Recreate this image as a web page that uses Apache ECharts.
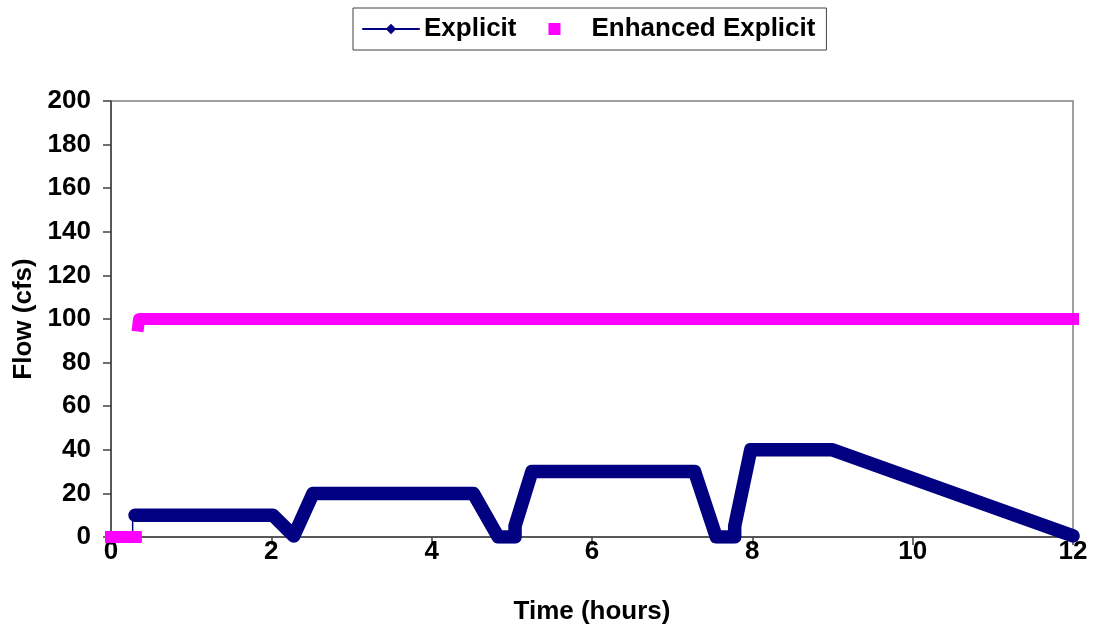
<!DOCTYPE html>
<html>
<head>
<meta charset="utf-8">
<script src="https://cdn.jsdelivr.net/npm/echarts@6/dist/echarts.min.js"></script>
<style>
html,body{margin:0;padding:0;background:#fff;}
#chart{width:1093px;height:636px;}
</style>
</head>
<body>
<div id="chart"></div>
<script>
// Explicit: short lead-in (thin connector) then the dense marker band (key vertices)
const explicitLeadX = [0, 0.27, 0.27, 0.30];
const explicitLeadY = [0, 0, 10, 10];
const explicitX = [0.30, 2.02, 2.28, 2.52, 4.52, 4.83, 5.04, 5.04, 5.25, 7.28, 7.55, 7.78, 7.78, 7.98, 9.00, 12.00];
const explicitY = [10, 10, 0.5, 20, 20, 0, 0, 5, 30, 30, 0, 0, 5, 40, 40, 0.5];
// Enhanced Explicit
const enhancedStartX = [0, 0.31];
const enhancedStartY = [0, 0];
const enhancedX = [0.34, 0.35, 12];
const enhancedY = [97, 100, 100];
const xTicks = [0, 2, 4, 6, 8, 10, 12];
const yTicks = [0, 20, 40, 60, 80, 100, 120, 140, 160, 180, 200];

const zip = (xs, ys) => xs.map((x, i) => [x, ys[i]]);
const FONT = '"Liberation Sans", Arial, sans-serif';
const NAVY = '#000080';
const PINK = '#FF00FF';

const chart = echarts.init(document.getElementById('chart'), null, {renderer: 'canvas'});
chart.setOption({
  animation: false,
  backgroundColor: '#fff',
  textStyle: {fontFamily: FONT},
  grid: {left: 111, right: 20, top: 101, bottom: 99, show: true, borderColor: '#808080', borderWidth: 1.5},
  legend: {
    left: 353, top: 8,
    padding: [8, 11, 8, 9],
    borderColor: '#404040', borderWidth: 1,
    itemWidth: 56, itemHeight: 13, itemGap: 14,
    symbolKeepAspect: false,
    textStyle: {fontFamily: FONT, fontWeight: 'bold', fontSize: 26, color: '#000'},
    data: [
      {name: 'Explicit', lineStyle: {width: 2, color: NAVY}, itemStyle: {color: NAVY}},
      {name: 'Enhanced Explicit',
       icon: 'path://M0,0h0.01v0.01h-0.01Z M55.99,12.99h0.01v0.01h-0.01Z M18,0.5H30V12.5H18Z',
       itemStyle: {color: PINK}}
    ]
  },
  xAxis: {
    type: 'value', min: xTicks[0], max: xTicks[xTicks.length - 1], interval: 2,
    name: 'Time (hours)', nameLocation: 'middle', nameGap: 62,
    nameTextStyle: {fontFamily: FONT, fontWeight: 'bold', fontSize: 26, color: '#000'},
    axisLine: {onZero: false, lineStyle: {color: '#404040', width: 1.5}},
    axisTick: {show: true, inside: false, length: 8, lineStyle: {color: '#404040', width: 1.5}},
    axisLabel: {margin: 2, fontFamily: FONT, fontWeight: 'bold', fontSize: 26, color: '#000'},
    splitLine: {show: false}
  },
  yAxis: {
    type: 'value', min: yTicks[0], max: yTicks[yTicks.length - 1], interval: 20,
    name: 'Flow (cfs)', nameLocation: 'middle', nameGap: 68, nameRotate: 90,
    nameTextStyle: {fontFamily: FONT, fontWeight: 'bold', fontSize: 26, color: '#000'},
    axisLine: {show: true, lineStyle: {color: '#404040', width: 1.5}},
    axisTick: {show: true, inside: false, length: 8, lineStyle: {color: '#404040', width: 1.5}},
    axisLabel: {margin: 20, fontFamily: FONT, fontWeight: 'bold', fontSize: 26, color: '#000'},
    splitLine: {show: false}
  },
  series: [
    {
      name: 'Explicit', type: 'line', symbol: 'diamond', showSymbol: false,
      data: zip(explicitX, explicitY),
      lineStyle: {color: NAVY, width: 13.5, join: 'round', cap: 'round'},
      itemStyle: {color: NAVY}, z: 3
    },
    {
      name: 'Explicit', type: 'line', symbol: 'diamond', showSymbol: false,
      data: zip(explicitLeadX, explicitLeadY),
      lineStyle: {color: NAVY, width: 1.5}, itemStyle: {color: NAVY}, z: 3
    },
    {
      name: 'Enhanced Explicit', type: 'line', symbol: 'rect', showSymbol: false,
      data: zip(enhancedStartX, enhancedStartY),
      lineStyle: {color: PINK, width: 12, cap: 'square'}, itemStyle: {color: PINK}, z: 4
    },
    {
      name: 'Enhanced Explicit', type: 'line', symbol: 'rect', showSymbol: false,
      data: zip(enhancedX, enhancedY),
      lineStyle: {color: PINK, width: 12, cap: 'square', join: 'round'}, itemStyle: {color: PINK}, z: 4
    }
  ]
});
</script>
</body>
</html>
